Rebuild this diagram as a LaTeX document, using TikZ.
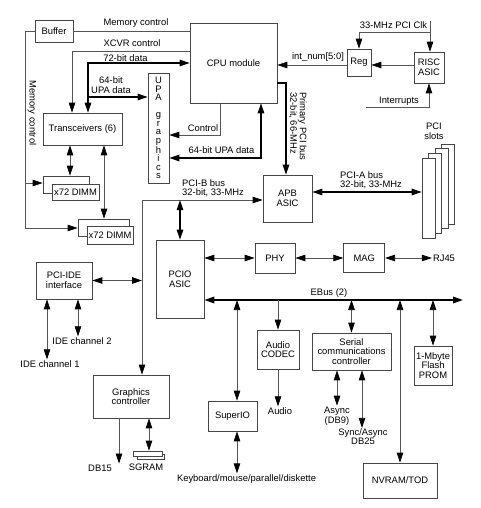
\documentclass[tikz,border=0pt]{standalone}
\usepackage{fontspec}
\setmainfont{Liberation Sans}
\usepackage{tikz}
\usetikzlibrary{arrows.meta,positioning,calc}
\usepackage{xcolor}
\definecolor{linegray}{RGB}{85,85,85}
\definecolor{boxgray}{RGB}{70,70,70}

\begin{document}
\begin{tikzpicture}[
  x=1pt, y=-1pt,
  every node/.style={font=\fontsize{9.4}{9.6}\selectfont, align=center, inner sep=1pt},
  >={Triangle[length=10pt,width=6.5pt,color=black]},
  blk/.style={draw=boxgray, fill=white, line width=0.7pt},
  ctl/.style={draw=linegray, line width=0.75pt},
  bus/.style={draw=black, line width=1.1pt},
  ebus/.style={draw=black, line width=1.8pt}
]
\useasboundingbox (0,0) rectangle (480,508);

% processor side
\node[blk, minimum width=38pt, minimum height=22pt] (buf) at (54,31) {Buffer};
\node[blk, minimum width=87pt, minimum height=80pt] (cpu) at (233.5,63) {CPU module};
\node[blk, minimum width=21pt, minimum height=110pt, font=\fontsize{9.4}{8.5}\selectfont] (upa) at (158.5,128) {U\\P\\A\\[8.5pt]g\\r\\a\\p\\h\\i\\c\\s};
\node[blk, minimum width=79pt, minimum height=32pt] (xcvr) at (82.5,129) {Transceivers (6)};
\node[blk, minimum width=46pt, minimum height=17pt] (dimma0) at (66,184.5) {};
\node[blk, minimum width=47pt, minimum height=16pt] (dimma) at (75.5,192) {x72 DIMM};
\node[blk, minimum width=51pt, minimum height=17pt] (dimmb0) at (103.5,227.5) {};
\node[blk, minimum width=46pt, minimum height=18pt] (dimmb) at (110,235) {x72 DIMM};
\node[blk, minimum width=24pt, minimum height=27pt] (reg) at (359,62.5) {Reg};
\node[blk, minimum width=30pt, minimum height=31pt] (risc) at (429,67.5) {RISC\\ASIC};

% PCI side
\node[blk, minimum width=49pt, minimum height=47pt] (apb) at (287.5,198.5) {APB\\ASIC};
\node[blk, minimum width=13pt, minimum height=80pt] (slot4) at (448,184) {};
\node[blk, minimum width=13pt, minimum height=80pt] (slot3) at (441.5,188.6) {};
\node[blk, minimum width=13pt, minimum height=80pt] (slot2) at (435,193.3) {};
\node[blk, minimum width=13pt, minimum height=80pt] (slot1) at (428.5,198) {};
\node[blk, minimum width=56pt, minimum height=37pt] (pciide) at (64,280.5) {PCI-IDE\\interface};
\node[blk, minimum width=48pt, minimum height=78pt] (pcio) at (180,279) {PCIO\\ASIC};
\node[blk, minimum width=40pt, minimum height=30pt] (phy) at (275,258) {PHY};
\node[blk, minimum width=41pt, minimum height=29pt, right=48pt of phy] (mag) {MAG};
\node[blk, minimum width=76pt, minimum height=43pt] (gfx) at (131,396.5) {Graphics\\controller};
\node[blk, minimum width=27pt, minimum height=5.5pt, inner sep=0pt] (sgram0) at (150.5,456.8) {};
\node[blk, minimum width=29pt, minimum height=5pt, inner sep=0pt] (sgram) at (147.5,453.5) {};

% EBus devices
\node[blk, minimum width=49pt, minimum height=30pt] (superio) at (232.5,416) {SuperIO};
\node[blk, minimum width=42pt, minimum height=39pt] (codec) at (278,349.5) {Audio\\CODEC};
\node[blk, minimum width=79pt, minimum height=37pt] (serial) at (351.5,351.5) {Serial\\communications\\controller};
\node[blk, minimum width=38pt, minimum height=39pt] (prom) at (433,365.5) {1-Mbyte\\Flash\\PROM};
\node[blk, minimum width=74pt, minimum height=35pt] (nvram) at (400,480.5) {NVRAM/TOD};

% plain labels
\node (memlbl) at (136,22.7) {Memory control};
\node[rotate=-90] (memlbl2) at (32,113) {Memory control};
\node (xcvrlbl) at (132,43.5) {XCVR control};
\node (datalbl) at (125.5,58) {72-bit data};
\node (upalbl) at (111,85) {64-bit\\UPA data};
\node (ctllbl) at (203,128) {Control};
\node (upalbl2) at (221.5,150.5) {64-bit UPA data};
\node[rotate=-90, align=left, anchor=north west, inner sep=0pt] (pplbl) at (307,92) {Primary PCI bus\\32-bit, 66-MHz};
\node (intlbl) at (318,57) {int\_num[5:0]};
\node (clklbl) at (393.5,25) {33-MHz PCI Clk};
\node (irqlbl) at (399,101) {Interrupts};
\node (slotlbl) at (434,131) {PCI\\slots};
\node[align=left, anchor=north west, inner sep=0pt] (pcialbl) at (340,171) {PCI-A bus\\32-bit, 33-MHz};
\node[align=left, anchor=north west, inner sep=0pt] (pciblbl) at (182,179) {PCI-B bus\\32-bit, 33-MHz};
\node (rj45) at (444,258) {RJ45};
\node (ebuslbl) at (329,293) {EBus (2)};
\node (ide1) at (50,364) {IDE channel 1};
\node (ide2) at (82,341) {IDE channel 2};
\node (audio) at (280,411) {Audio};
\node[font=\fontsize{9.4}{8.3}\selectfont] (async) at (337,416) {Async\\(DB9)};
\node[font=\fontsize{9.4}{8.8}\selectfont] (sync) at (363,437) {Sync/Async\\DB25};
\node (kbd) at (246.5,479) {Keyboard/mouse/parallel/diskette};
\node (db15) at (100,468) {DB15};
\node (sgramlbl) at (146,467) {SGRAM};

% junctions
\coordinate (mc) at (25,228);
\coordinate (mcj) at (25,183);
\coordinate (upajn) at (88,97);
\coordinate (pcib) at (142,200);
\coordinate (ebend) at (463,300);
\coordinate (clk) at (430,21);
\coordinate (irqsrc) at (366,107);

% memory and CPU connections
\draw[ctl] (buf.east) -- (cpu.west |- buf.east);
\draw[ctl, ->] (buf.west) -| (mc) -- (mc -| dimmb0.west);
\draw[ctl, ->] (mcj) -- (mcj -| dimma0.west);
\draw[ctl, ->] (cpu.west |- 0,51) -| (xcvr.north -| 72,0);
\draw[bus, <->] (xcvr.north -| 88,0) |- (cpu.west |- 0,63);
\draw[bus, ->] (upajn) -- (upa.west |- upajn);
\draw[ctl, <->] (xcvr.south -| 70,0) -- (dimma0.north -| 70,0);
\draw[ctl, <->] (xcvr.south -| 104,0) -- (dimmb0.north -| 104,0);
\draw[ctl, ->] (cpu.south -| 220,0) |- (upa.east |- 0,135);
\draw[bus, <->] (upa.east |- 0,158) -| (cpu.south -| 261,0);
\draw[bus, ->] (cpu.east |- 0,83) -| (apb.north -| 286,0);

% interrupt and clock
\draw[ctl, ->] (clk) -- (risc.north -| clk);
\draw[ctl, ->] (clk |- 0,32) -| (reg.north);
\draw[ctl, ->] (risc.west |- 0,65) -- (reg.east |- 0,65);
\draw[ctl, ->] (reg.west |- 0,65) -- (cpu.east |- 0,65);
\draw[ctl, ->] (irqsrc) -| (risc.south);

% PCI buses
\draw[bus, <->] (apb.east |- 0,192) -- (slot1.west |- 0,192);
\draw[ctl, ->] (pcib) -- (apb.west |- pcib);
\draw[ctl, ->] (pcib) -- (gfx.north -| pcib);
\draw[bus, <->] (pcio.north) -- (pcio.north |- pcib);
\draw[ctl, <->] (pciide.east) -- (pciide.east -| pcib);
\draw[ctl, <->] (pciide.south -| 47,0) -- (ide1.north -| 47,0);
\draw[ctl, <->] (pciide.south -| 78,0) -- (ide2.north -| 78,0);
\draw[ctl, <->] (pcio.east |- phy.west) -- (phy.west);
\draw[ctl, <->] (phy.east) -- (mag.west |- phy.east);
\draw[ctl, <->] (mag.east |- phy.east) -- (rj45.west);

% EBus
\draw[ebus, <->] (pcio.east |- ebend) -- (ebend);
\draw[ctl, <->] (ebend -| 237,0) -- (superio.north -| 237,0);
\draw[ctl, <->] (superio.south -| 237,0) -- (kbd.north -| 237,0);
\draw[ctl, ->] (codec.north |- ebend) -- (codec.north);
\draw[ctl, ->] (codec.south) -- (audio.north -| codec.south);
\draw[ctl, <->] (serial.north |- ebend) -- (serial.north);
\draw[ctl, <->] (serial.south -| async.north) -- (async.north);
\draw[ctl, <->] (serial.south -| 362,0) -- (sync.north -| 362,0);
\draw[ctl, <->] (nvram.north |- ebend) -- (nvram.north);
\draw[ctl, <->] (prom.north |- ebend) -- (prom.north);

% graphics
\draw[ctl, ->] (gfx.south -| 119,0) -- (db15.north -| 119,0);
\draw[ctl, <->] (gfx.south -| 149,0) -- (sgram.north -| 149,0);
\end{tikzpicture}
\end{document}
